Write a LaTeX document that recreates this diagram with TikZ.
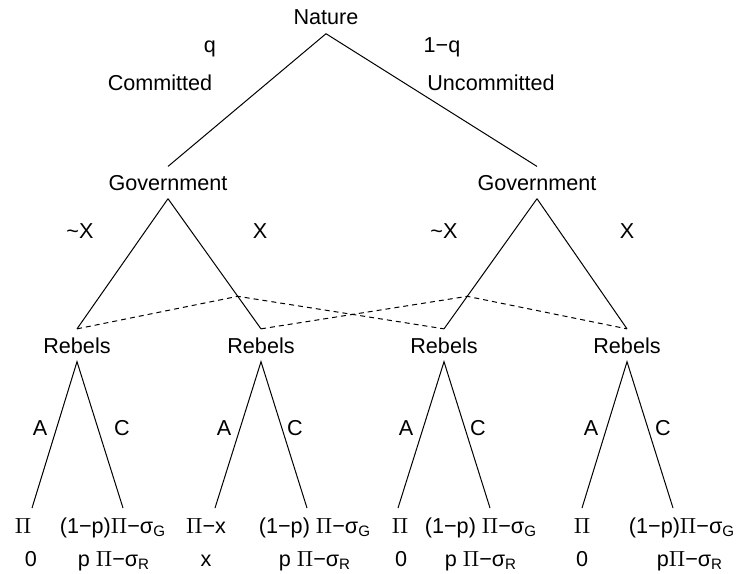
\documentclass[tikz,border=0pt]{standalone}
\usepackage{fontspec}
\setmainfont{Liberation Sans}
\usepackage{tikz}
\usetikzlibrary{calc}

\begin{document}
\begin{tikzpicture}[x=0.5pt, y=-0.5pt, line width=0.5pt,
    font=\fontsize{10.8}{13}\selectfont]
\tikzstyle{player} = [anchor=base, inner sep=0pt, inner ysep=4pt]
\tikzstyle{move} = [anchor=base, inner sep=0pt]
\tikzstyle{payoff} = [anchor=base, inner sep=0pt]
\tikzstyle{infoset} = [dash pattern=on 2.5pt off 2pt]
    \useasboundingbox (0,0) rectangle (737,573);
    % We start by placing the players
    \node [player] (nature) at (326,25) {Nature};
    \node [player] (gov1) at (168,190) {Government};
    \node [player] (gov2) at (537,190) {Government};
    \node [player] (reb1) at (77,353) {Rebels};
    \node [player] (reb2) at (261,353) {Rebels};
    \node [player] (reb3) at (444,353) {Rebels};
    \node [player] (reb4) at (627,353) {Rebels};
    % end points of the rebels' moves
    \coordinate (end1a) at (32,508);
    \coordinate (end1c) at (123,508);
    \coordinate (end2a) at (215,508);
    \coordinate (end2c) at (307,508);
    \coordinate (end3a) at (398,508);
    \coordinate (end3c) at (490,508);
    \coordinate (end4a) at (582,508);
    \coordinate (end4c) at (673,508);

    % Branches of the tree
    \draw (nature.south) -- (gov1.north);
    \draw (nature.south) -- (gov2.north);
    \draw (gov1.south) -- (reb1.north);
    \draw (gov1.south) -- (reb2.north);
    \draw (gov2.south) -- (reb3.north);
    \draw (gov2.south) -- (reb4.north);
    \draw (end1a) -- (reb1.south) -- (end1c);
    \draw (end2a) -- (reb2.south) -- (end2c);
    \draw (end3a) -- (reb3.south) -- (end3c);
    \draw (end4a) -- (reb4.south) -- (end4c);

    % The rebels do not see what the government did
    \draw [infoset] (reb1.north) -- ($(gov1.south)!0.75!(reb2.north)$)
        -- (reb3.north);
    \draw [infoset] (reb2.north) -- ($(gov2.south)!0.75!(reb3.north)$)
        -- (reb4.north);

    % Labels of the moves
    \node [move] (q) at (210,52) {q};
    \node [move] (oneminusq) at (442,52) {1−q};
    \node [move] (committed) at (160,90) {Committed};
    \node [move] (uncommitted) at (491,90) {Uncommitted};
    \node [move] (notx1) at (80,238) {\textasciitilde X};
    \node [move] (x1) at (260,238) {X};
    \node [move] (notx2) at (444,238) {\textasciitilde X};
    \node [move] (x2) at (627,238) {X};
    \node [move] (a1) at (40,435) {A};
    \node [move] (c1) at (122,435) {C};
    \node [move] (a2) at (224,435) {A};
    \node [move] (c2) at (295,435) {C};
    \node [move] (a3) at (406,435) {A};
    \node [move] (c3) at (478,435) {C};
    \node [move] (a4) at (591,435) {A};
    \node [move] (c4) at (663,435) {C};

    % Payoffs, government on top and rebels below
    \node [payoff] (g1a) at (23,533) {$\Pi$};
    \node [payoff] (r1a) at (31,566) {0};
    \node [payoff] (g1c) at (113,533) {(1−p)$\Pi$−σ\textsubscript{G}};
    \node [payoff] (r1c) at (114,566) {p $\Pi$−σ\textsubscript{R}};
    \node [payoff] (g2a) at (206,533) {$\Pi$−x};
    \node [payoff] (r2a) at (206,566) {x};
    \node [payoff] (g2c) at (315,533) {(1−p) $\Pi$−σ\textsubscript{G}};
    \node [payoff] (r2c) at (315,566) {p $\Pi$−σ\textsubscript{R}};
    \node [payoff] (g3a) at (400,533) {$\Pi$};
    \node [payoff] (r3a) at (401,566) {0};
    \node [payoff] (g3c) at (481,533) {(1−p) $\Pi$−σ\textsubscript{G}};
    \node [payoff] (r3c) at (481,566) {p $\Pi$−σ\textsubscript{R}};
    \node [payoff] (g4a) at (582,533) {$\Pi$};
    \node [payoff] (r4a) at (582,566) {0};
    \node [payoff] (g4c) at (682,533) {(1−p)$\Pi$−σ\textsubscript{G}};
    \node [payoff] (r4c) at (690,566) {p$\Pi$−σ\textsubscript{R}};
\end{tikzpicture}
\end{document}
